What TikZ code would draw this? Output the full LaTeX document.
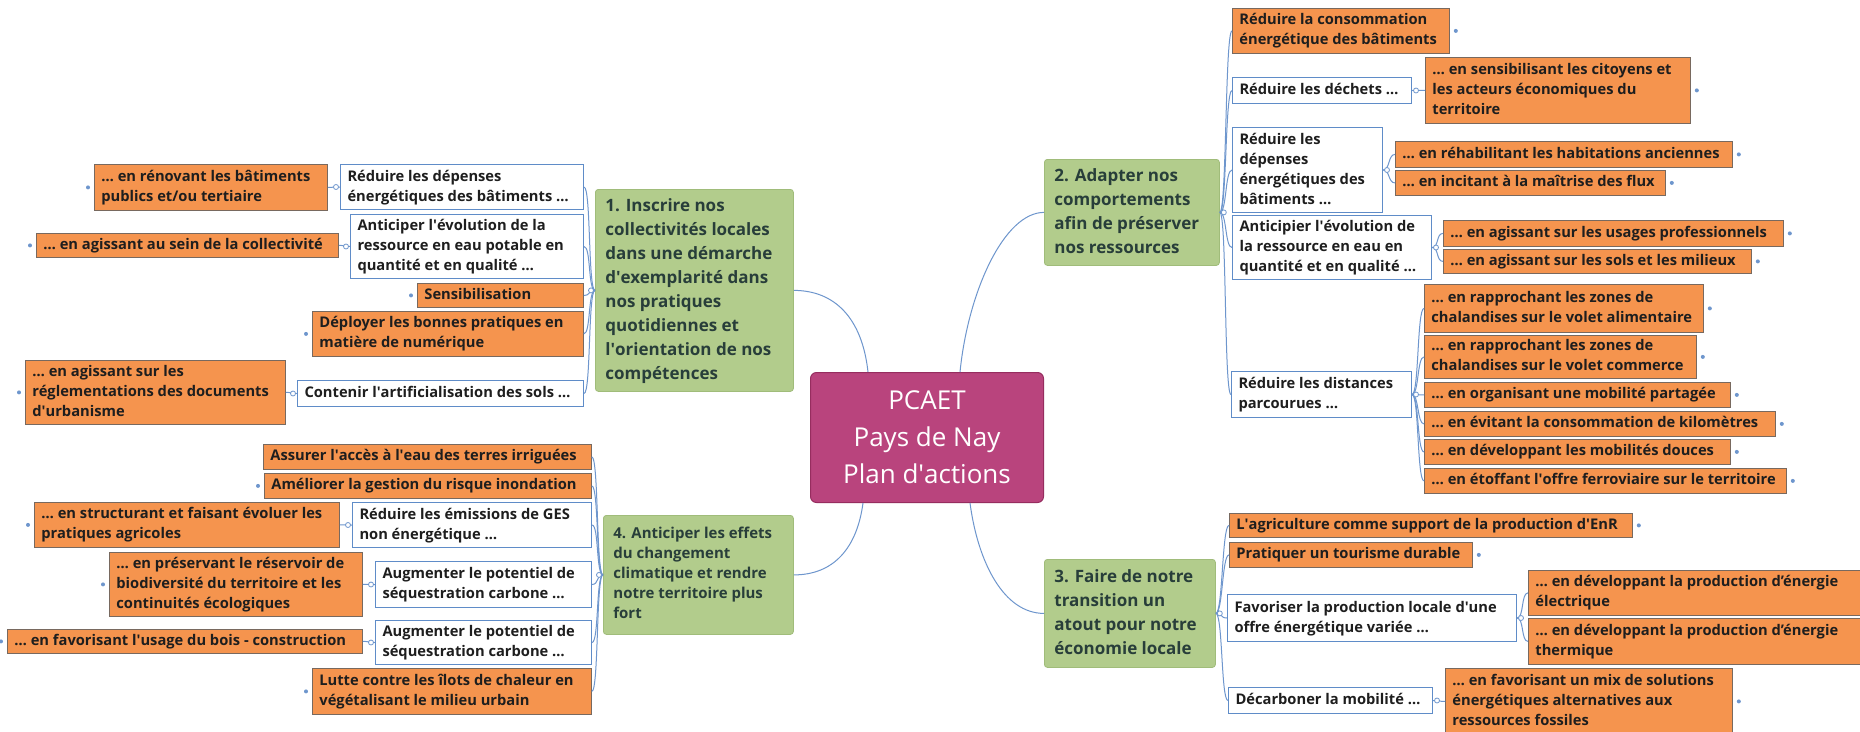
\documentclass[tikz,border=0pt]{standalone}
\usepackage{fontspec}
\setmainfont{Open Sans}
\definecolor{orf}{RGB}{245,148,78}
\definecolor{ord}{RGB}{120,105,95}
\definecolor{wbd}{RGB}{95,140,200}
\definecolor{grf}{RGB}{178,204,140}
\definecolor{grd}{RGB}{160,188,122}
\definecolor{grt}{RGB}{40,62,58}
\definecolor{cef}{RGB}{185,68,125}
\definecolor{ced}{RGB}{150,45,95}
\definecolor{cnc}{RGB}{110,150,205}
\definecolor{txd}{RGB}{30,30,30}
\newcommand\ap{\textquotesingle}
\tikzset{
 obox/.style={draw=ord, fill=orf, line width=0.8pt, inner ysep=0pt, text=txd, font=\fontsize{14.7}{20}\selectfont\bfseries},
 wbox/.style={draw=wbd, fill=white, line width=1pt, inner ysep=0pt, text=txd, font=\fontsize{14.7}{20}\selectfont\bfseries},
 gbox/.style={draw=grd, fill=grf, rounded corners=3pt, line width=0.8pt, inner ysep=0pt, text=grt, font=\fontsize{17}{24}\selectfont\bfseries},
 gboxs/.style={gbox, font=\fontsize{15}{20}\selectfont\bfseries},
 cbox/.style={draw=ced, fill=cef, rounded corners=6pt, line width=1pt, text=white, font=\fontsize{26}{37}\selectfont, align=center},
 conn/.style={draw=cnc, line width=1pt},
 knob/.style={draw=cnc, fill=white, line width=0.8pt},
}
\newcommand\mmbox[8][7]{%
  \pgfmathsetmacro\bxw{#6-#4-2*#1}%
  \pgfmathsetmacro\bxh{#7-#5}%
  \node[#3, inner xsep=#1pt, anchor=north west, minimum height=\bxh pt] (#2) at (#4,#5)
    {\makebox[\bxw pt][l]{\begin{tabular}{@{}l@{}}#8\end{tabular}}};}
\newcommand\lnkL[2]{\draw[conn] (#1.west) .. controls +(-7,0) and +(7,0) .. (#2.east);}
\newcommand\lnkR[2]{\draw[conn] (#1.east) .. controls +(7,0) and +(-7,0) .. (#2.west);}
\newcommand\knobL[1]{\draw[knob] ([xshift=-4pt]#1.west) circle (2.5pt);}
\newcommand\knobR[1]{\draw[knob] ([xshift=4pt]#1.east) circle (2.5pt);}
\newcommand\dotL[1]{\fill[cnc] ([xshift=-6pt]#1.west) circle (2pt);}
\newcommand\dotR[1]{\fill[cnc] ([xshift=6pt]#1.east) circle (2pt);}
\begin{document}
\begin{tikzpicture}[x=1pt,y=-1pt]
\fill[white] (0,0) rectangle (1860,731);
\useasboundingbox (0,0) rectangle (1860,731);
% centre
\node[cbox, anchor=north west, minimum width=233pt, minimum height=130pt] (ctr) at (810,372) {PCAET\\Pays de Nay\\Plan d\ap actions};
% group 1
\mmbox{a1}{obox}{94}{164}{327}{210}{… en rénovant les bâtiments\\publics et/ou tertiaire}
\mmbox{a2}{wbox}{340}{164}{583}{209}{Réduire les dépenses\\énergétiques des bâtiments …}
\mmbox{a3}{obox}{36}{233}{338}{257}{… en agissant au sein de la collectivité}
\mmbox{a4}{wbox}{350}{214}{583}{278}{Anticiper l\ap évolution de la\\ressource en eau potable en\\quantité et en qualité …}
\mmbox{a5}{obox}{417}{283}{583}{307}{Sensibilisation}
\mmbox{a6}{obox}{312}{311}{583}{356}{Déployer les bonnes pratiques en\\matière de numérique}
\mmbox{a7}{obox}{25}{360}{285}{424}{… en agissant sur les\\réglementations des documents\\d\ap urbanisme}
\mmbox{a8}{wbox}{297}{380}{583}{406}{Contenir l\ap artificialisation des sols …}
\mmbox[10]{g1}{gbox}{595}{189}{793}{391}{1. Inscrire nos\\collectivités locales\\dans une démarche\\d\ap exemplarité dans\\nos pratiques\\quotidiennes et\\l\ap orientation de nos\\compétences}
% group 4
\mmbox{d1}{obox}{263}{444}{591}{469}{Assurer l\ap accès à l\ap eau des terres irriguées}
\mmbox{d2}{obox}{264}{473}{591}{498}{Améliorer la gestion du risque inondation}
\mmbox{d3}{obox}{34}{502}{339}{547}{… en structurant et faisant évoluer les\\pratiques agricoles}
\mmbox{d4}{wbox}{352}{502}{591}{547}{Réduire les émissions de GES\\non énergétique …}
\mmbox{d5}{obox}{109}{552}{362}{616}{… en préservant le réservoir de\\biodiversité du territoire et les\\continuités écologiques}
\mmbox{d6}{wbox}{375}{561}{591}{607}{Augmenter le potentiel de\\séquestration carbone …}
\mmbox{d7}{obox}{7}{629}{362}{653}{… en favorisant l\ap usage du bois - construction}
\mmbox{d8}{wbox}{375}{620}{591}{664}{Augmenter le potentiel de\\séquestration carbone …}
\mmbox{d9}{obox}{312}{668}{591}{714}{Lutte contre les îlots de chaleur en\\végétalisant le milieu urbain}
\mmbox[10]{g4}{gboxs}{603}{515}{793}{634}{4. Anticiper les effets\\du changement\\climatique et rendre\\notre territoire plus\\fort}
% group 2
\mmbox[10]{g2}{gbox}{1044}{159}{1219}{265}{2. Adapter nos\\comportements\\afin de préserver\\nos ressources}
\mmbox{b1}{obox}{1232}{8}{1449}{53}{Réduire la consommation\\énergétique des bâtiments}
\mmbox{b2}{wbox}{1232}{77}{1411}{103}{Réduire les déchets …}
\mmbox{b3}{obox}{1425}{57}{1690}{123}{… en sensibilisant les citoyens et\\les acteurs économiques du\\territoire}
\mmbox{b4}{wbox}{1232}{127}{1382}{212}{Réduire les\\dépenses\\énergétiques des\\bâtiments …}
\mmbox{b5}{obox}{1395}{141}{1732}{167}{… en réhabilitant les habitations anciennes}
\mmbox{b6}{obox}{1395}{170}{1665}{195}{… en incitant à la maîtrise des flux}
\mmbox{b7}{wbox}{1232}{215}{1431}{279}{Anticipier l\ap évolution de\\la ressource en eau en\\quantité et en qualité …}
\mmbox{b8}{obox}{1443}{220}{1783}{246}{… en agissant sur les usages professionnels}
\mmbox{b9}{obox}{1443}{249}{1751}{273}{… en agissant sur les sols et les milieux}
\mmbox{b10}{wbox}{1231}{371}{1411}{417}{Réduire les distances\\parcourues …}
\mmbox{b11}{obox}{1424}{284}{1703}{332}{… en rapprochant les zones de\\chalandises sur le volet alimentaire}
\mmbox{b12}{obox}{1424}{335}{1696}{378}{… en rapprochant les zones de\\chalandises sur le volet commerce}
\mmbox{b13}{obox}{1424}{382}{1730}{407}{… en organisant une mobilité partagée}
\mmbox{b14}{obox}{1424}{411}{1775}{436}{… en évitant la consommation de kilomètres}
\mmbox{b15}{obox}{1424}{439}{1730}{464}{… en développant les mobilités douces}
\mmbox{b16}{obox}{1424}{468}{1786}{493}{… en étoffant l\ap offre ferroviaire sur le territoire}
% group 3
\mmbox[10]{g3}{gbox}{1044}{559}{1215}{667}{3. Faire de notre\\transition un\\atout pour notre\\économie locale}
\mmbox{c1}{obox}{1229}{513}{1632}{537}{L\ap agriculture comme support de la production d\ap EnR}
\mmbox{c2}{obox}{1229}{542}{1472}{567}{Pratiquer un tourisme durable}
\mmbox{c3}{wbox}{1227}{594}{1516}{641}{Favoriser la production locale d\ap une\\offre énergétique variée …}
\mmbox{c4}{obox}{1528}{570}{1866}{615}{… en développant la production d’énergie\\électrique}
\mmbox{c5}{obox}{1528}{618}{1866}{664}{… en développant la production d’énergie\\thermique}
\mmbox{c6}{wbox}{1228}{687}{1432}{713}{Décarboner la mobilité …}
\mmbox{c7}{obox}{1445}{668}{1732}{734}{… en favorisant un mix de solutions\\énergétiques alternatives aux\\ressources fossiles}
% main branches
\draw[conn] ([xshift=58pt]ctr.north west) .. controls +(-6,-55) and +(40,0) .. (g1.east);
\draw[conn] ([xshift=150pt]ctr.north west) .. controls +(8,-80) and +(-40,0) .. (g2.west);
\draw[conn] ([xshift=53pt]ctr.south west) .. controls +(-6,45) and +(40,0) .. (g4.east);
\draw[conn] ([xshift=160pt]ctr.south west) .. controls +(8,60) and +(-40,0) .. (g3.west);
% sub branches
\foreach \c in {a2,a4,a5,a6,a8} {\lnkL{g1}{\c}}
\lnkL{a2}{a1}\lnkL{a4}{a3}\lnkL{a8}{a7}
\foreach \c in {d1,d2,d4,d6,d8,d9} {\lnkL{g4}{\c}}
\lnkL{d4}{d3}\lnkL{d6}{d5}\lnkL{d8}{d7}
\foreach \c in {b1,b2,b4,b7,b10} {\lnkR{g2}{\c}}
\lnkR{b2}{b3}\lnkR{b4}{b5}\lnkR{b4}{b6}\lnkR{b7}{b8}\lnkR{b7}{b9}
\foreach \c in {b11,b12,b13,b14,b15,b16} {\lnkR{b10}{\c}}
\foreach \c in {c1,c2,c3,c6} {\lnkR{g3}{\c}}
\lnkR{c3}{c4}\lnkR{c3}{c5}\lnkR{c6}{c7}
% knobs
\foreach \c in {g1,a2,a4,a8,g4,d4,d6,d8} {\knobL{\c}}
\foreach \c in {g2,b2,b4,b7,b10,g3,c3,c6} {\knobR{\c}}
% leaf dots
\foreach \c in {a1,a3,a5,a6,a7,d2,d3,d5,d7,d9} {\dotL{\c}}
\foreach \c in {b1,b3,b5,b6,b8,b9,b11,b12,b13,b14,b15,b16,c1,c2,c7} {\dotR{\c}}
\end{tikzpicture}
\end{document}
